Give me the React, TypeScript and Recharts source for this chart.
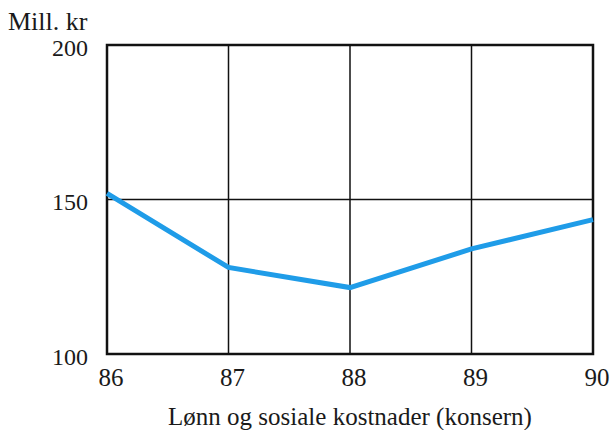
import React from 'react';
import { LineChart, Line, XAxis, YAxis, CartesianGrid, ReferenceArea, Label } from 'recharts';

const years = ['86', '87', '88', '89', '90'];
const values = [152, 128, 121.5, 134, 143.5];
const yTicks = [100, 150, 200];
const yUnit = 'Mill. kr';
const xTitle = 'Lønn og sosiale kostnader (konsern)';

const data = years.map((y, i) => ({ year: y, value: values[i] }));

const FONT = 'Liberation Serif, Times New Roman, DejaVu Serif, serif';

export default function App() {
  return (
    <div style={{ position: 'absolute', left: 0, top: 0, fontFamily: FONT }}>
      <LineChart
        width={611}
        height={430}
        data={data}
        margin={{ top: 45, right: 18, bottom: 0, left: 0 }}
      >
        <CartesianGrid stroke="#111" strokeWidth={1.5} horizontalValues={yTicks} />
        <XAxis
          dataKey="year"
          axisLine={false}
          tickLine={false}
          height={76}
          tickMargin={8}
          interval={0}
          tick={{ fontSize: 25, fill: '#1a1a1a', fontFamily: FONT, dx: 4 }}
        >
          <Label
            value={xTitle}
            position="insideBottom"
            offset={5}
            fontFamily={FONT}
            fontSize={25}
            fill="#1a1a1a"
          />
        </XAxis>
        <YAxis
          domain={[100, 200]}
          ticks={yTicks}
          width={107}
          axisLine={false}
          tickLine={false}
          tickMargin={13}
          tick={{ fontSize: 24, fill: '#1a1a1a', fontFamily: FONT, dy: 2 }}
        >
          <Label
            content={() => (
              <text x={8} y={30} fontSize={26} fill="#1a1a1a" fontFamily={FONT}>
                {yUnit}
              </text>
            )}
          />
        </YAxis>
        <ReferenceArea x1="86" x2="90" y1={100} y2={200} fill="none" stroke="#111" strokeWidth={2.5} ifOverflow="visible" />
        <Line
          type="linear"
          dataKey="value"
          stroke="#1f9ce8"
          strokeWidth={5}
          dot={false}
          isAnimationActive={false}
        />
      </LineChart>
    </div>
  );
}
